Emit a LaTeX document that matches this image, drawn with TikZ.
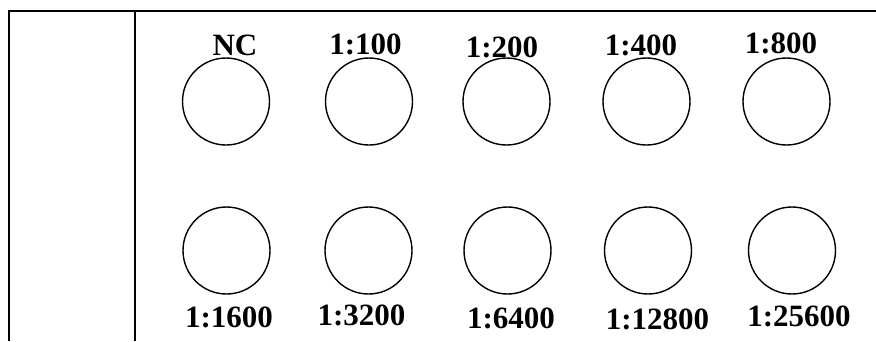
\documentclass[tikz,border=0pt]{standalone}
\usepackage{fontspec}
\setmainfont{Liberation Serif}
\usetikzlibrary{positioning}

\begin{document}
\begin{tikzpicture}[
    x=1pt, y=-1pt,
    well/.style = {circle, draw, line width=1.4pt, minimum size=87pt, inner sep=0pt},
    dil/.style  = {anchor=base, inner sep=0pt, font=\fontsize{31}{31}\selectfont\bfseries},
    rule/.style = {line width=2pt}
]
\useasboundingbox (0,0) rectangle (876,341);

%% ── Tabla ───────────────────────────────────────────────────────────────────
\draw[rule] (8.5,341) -- (8.5,11) -- (876,11);
\draw[rule] (135,11) -- (135,341);

%% ── Fila superior ───────────────────────────────────────────────────────────
\node[well] (nc)   at (226,101.5)   {};
\node[well] (d100) at (369,101.5)   {};
\node[well] (d200) at (506.5,101.5) {};
\node[well] (d400) at (646.5,101.5) {};
\node[well] (d800) at (786.5,101.5) {};

\node[dil] (lnc)   at (235,55)   {NC};
\node[dil] (l100)  at (365.5,54) {1:100};
\node[dil] (l200)  at (502,57)   {1:200};
\node[dil] (l400)  at (641,55)   {1:400};
\node[dil] (l800)  at (781,53)   {1:800};

%% ── Fila inferior ───────────────────────────────────────────────────────────
\node[well] (d1600)  at (226.5,250.5) {};
\node[well] (d3200)  at (368.5,250.5) {};
\node[well] (d6400)  at (507.5,250.5) {};
\node[well] (d12800) at (648,250.5)   {};
\node[well] (d25600) at (792,250.5)   {};

\node[dil] (l1600)  at (229,327)   {1:1600};
\node[dil] (l3200)  at (361.5,325) {1:3200};
\node[dil] (l6400)  at (511,328)   {1:6400};
\node[dil] (l12800) at (657.5,329) {1:12800};
\node[dil] (l25600) at (799,326)   {1:25600};

\end{tikzpicture}
\end{document}
